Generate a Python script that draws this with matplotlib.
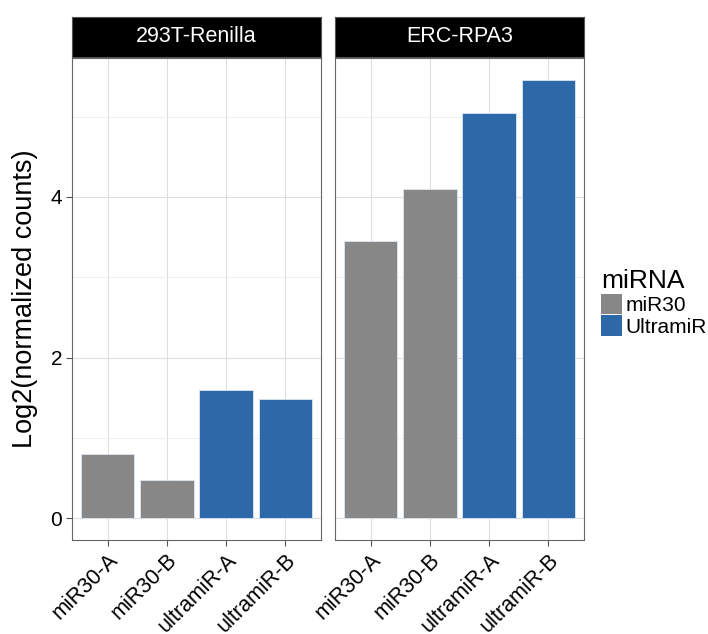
import matplotlib.pyplot as plt
from matplotlib.patches import Patch

plt.rcParams['font.family'] = ['Liberation Sans', 'DejaVu Sans']

panels = ['293T-Renilla', 'ERC-RPA3']
constructs = ['miR30-A', 'miR30-B', 'ultramiR-A', 'ultramiR-B']
mirna = ['miR30', 'miR30', 'UltramiR', 'UltramiR']
values = {
    '293T-Renilla': [0.80, 0.48, 1.60, 1.48],
    'ERC-RPA3': [3.45, 4.10, 5.05, 5.46],
}
colors = {'miR30': '#878787', 'UltramiR': '#2D69A9'}

fig = plt.figure(figsize=(7.08, 6.34), dpi=100)
W, H = 708, 634
lefts = [72, 335]
pw = 249
top, bottom = 58, 540
ymin, ymax = -0.27, 5.73

for i, (name, left) in enumerate(zip(panels, lefts)):
    ax = fig.add_axes([left / W, (H - bottom) / H, pw / W, (bottom - top) / H])
    x = range(len(constructs))
    ax.bar(x, values[name], width=0.9, color=[colors[m] for m in mirna],
           edgecolor='#dde6f0', linewidth=0.6, zorder=3)
    ax.set_xlim(-0.6, 3.6)
    ax.set_ylim(ymin, ymax)
    ax.set_yticks([0, 2, 4])
    ax.set_yticks([1, 3, 5], minor=True)
    ax.set_xticks(list(x))
    ax.set_xticklabels(constructs, rotation=45, ha='right', va='top',
                       rotation_mode='anchor', fontsize=15.5)
    ax.grid(True, which='major', color='#dedede', linewidth=0.8, zorder=0)
    ax.grid(True, which='minor', axis='y', color='#eeeeee', linewidth=0.6, zorder=0)
    ax.tick_params(axis='both', which='major', length=4, width=0.8, color='#555555',
                   pad=3)
    ax.tick_params(axis='y', which='major', labelsize=15)
    ax.tick_params(axis='y', which='minor', length=0)
    for s in ax.spines.values():
        s.set_color('#666666')
        s.set_linewidth(0.8)
    if i == 0:
        ax.set_ylabel('Log2(normalized counts)', fontsize=19.5, labelpad=9)
    else:
        ax.tick_params(axis='y', which='major', left=False, labelleft=False)

    sax = fig.add_axes([left / W, (H - 57) / H, pw / W, 40 / H])
    sax.set_facecolor('black')
    sax.set_xticks([])
    sax.set_yticks([])
    for s in sax.spines.values():
        s.set_color('#555555')
        s.set_linewidth(0.8)
    sax.text(0.5, 0.5, name, color='white', fontsize=15.5, ha='center', va='center',
             transform=sax.transAxes)

handles = [Patch(facecolor=colors[k], edgecolor='none') for k in ['miR30', 'UltramiR']]
leg = fig.legend(handles, ['miR30', 'UltramiR'], title='miRNA',
                 loc='center left', bbox_to_anchor=(597 / W, 1 - 303 / H),
                 frameon=False, fontsize=15, title_fontsize=19,
                 handlelength=1.0, handleheight=1.15, handletextpad=0.15,
                 labelspacing=0.02, borderpad=0.2, borderaxespad=0)
leg._legend_box.align = 'left'

fig.savefig('out.png', dpi=100)
